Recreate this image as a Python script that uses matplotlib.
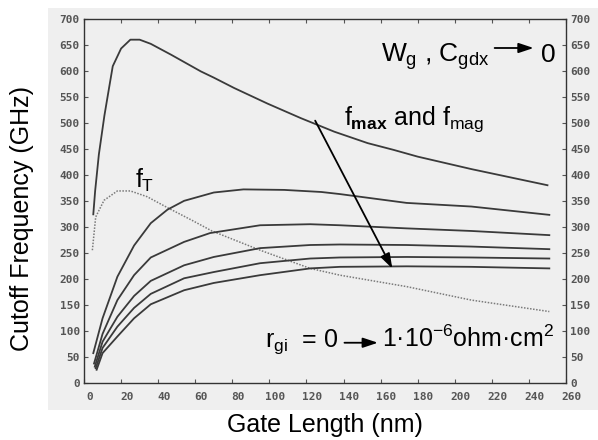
import numpy as np
import matplotlib
matplotlib.use("Agg")
import matplotlib.pyplot as plt
from matplotlib.patches import Rectangle
from matplotlib.transforms import ScaledTranslation

plt.rcParams['font.family'] = ['Liberation Sans', 'DejaVu Sans']
plt.rcParams['mathtext.fontset'] = 'custom'
plt.rcParams['mathtext.rm'] = 'Liberation Sans'
plt.rcParams['mathtext.it'] = 'Liberation Sans'
plt.rcParams['mathtext.bf'] = 'Liberation Sans:bold'

# f_max with r_gi = 0 (W_g, C_gdx -> 0)
x_top = [5, 6, 8, 10, 11, 13.5, 15.5, 20, 25, 30, 36, 47, 58, 63, 70, 81, 99, 117, 135, 153, 167, 180, 209, 250]
y_top = [325, 370, 440, 490, 515, 568, 610, 644, 661, 661, 653, 632, 610, 600, 588, 568, 538, 510, 484, 462, 449, 436, 412, 381]

# f_T (dotted)
x_ft = [4.5, 6.3, 10.8, 18, 25, 34, 46, 58, 69, 95, 122, 138, 174, 209, 251]
y_ft = [256, 320, 352, 370, 370, 359, 336, 314, 293, 256, 221, 208, 186, 160, 138]

# f_max / f_mag for increasing r_gi
x_a = [5, 10, 18, 27, 36, 45, 54, 70, 86, 108, 128, 138, 174, 209, 251]
y_a = [58, 125, 205, 265, 308, 334, 351, 367, 373, 372, 368, 364, 347, 340, 324]
x_b = [5.4, 10, 18, 27, 36, 54, 68, 95, 122, 138, 174, 209, 251]
y_b = [38, 95, 160, 208, 242, 272, 289, 304, 306, 304, 298, 293, 285]
x_c = [5.8, 10, 18, 27, 36, 54, 70, 95, 122, 138, 174, 209, 251]
y_c = [32, 80, 128, 168, 197, 227, 243, 260, 266, 267, 266, 263, 258]
x_d = [6.3, 10, 18, 27, 36, 54, 70, 95, 122, 138, 174, 209, 251]
y_d = [29, 68, 109, 145, 172, 202, 214, 231, 240, 242, 243, 242, 240]
x_e = [6.8, 10, 18, 27, 36, 54, 70, 95, 122, 138, 174, 209, 251]
y_e = [26, 58, 90, 125, 152, 179, 193, 208, 221, 224, 225, 224, 221]

xticks = list(range(0, 261, 20))
yticks = list(range(0, 701, 50))

fig = plt.figure(figsize=(5.98, 4.40), dpi=100)
fig.patch.set_facecolor('white')
# scanned grey panel behind the plot
fig.patches.append(Rectangle((0.08, 0.068), 0.92, 0.914, transform=fig.transFigure,
                             facecolor='#efefef', edgecolor='none', zorder=-10))

ax = fig.add_axes([0.1405, 0.1289, 0.806, 0.827])
ax.set_zorder(1)
ax.set_facecolor('#efefef')

lc = '#3a3a3a'
ax.plot(x_top, y_top, color=lc, lw=1.3)
ax.plot(x_ft, y_ft, color='#7a7a7a', lw=1.1, ls=(0, (1, 1)))
for xs, ys in [(x_a, y_a), (x_b, y_b), (x_c, y_c), (x_d, y_d), (x_e, y_e)]:
    ax.plot(xs, ys, color=lc, lw=1.3)

ax.set_xlim(0, 260)
ax.set_ylim(0, 700)
ax.set_xticks(xticks)
ax.set_yticks(yticks)
for s in ax.spines.values():
    s.set_color('#333333')
    s.set_linewidth(1.0)

ax.tick_params(axis='x', direction='in', top=True, length=3, pad=6, colors='#555555')
ax.tick_params(axis='y', direction='in', left=True, right=True, labelleft=True,
               labelright=True, length=3, pad=3, colors='#555555')
shift = ScaledTranslation(4 / 72, 0, fig.dpi_scale_trans)
for t in ax.xaxis.get_major_ticks() + ax.yaxis.get_major_ticks():
    for lab in (t.label1, t.label2):
        lab.set_fontfamily('DejaVu Sans Mono')
        lab.set_fontsize(8)
        lab.set_fontweight('bold')
for t in ax.xaxis.get_major_ticks():
    t.label1.set_transform(t.label1.get_transform() + shift)

fig.text(0.037, 0.503, 'Cutoff Frequency (GHz)', rotation=90, ha='center', va='center', fontsize=18)
fig.text(0.5435, 0.033, 'Gate Length (nm)', ha='center', va='center', fontsize=18)

ax.text(160, 618, r'$W_g$ , $C_{gdx}$', fontsize=19, va='baseline')
ax.annotate('', xy=(244, 645), xytext=(220, 645),
            arrowprops=dict(arrowstyle='-|>,head_length=0.9,head_width=0.3', lw=1.3, color='black'))
ax.text(246.5, 618, '0', fontsize=19, va='baseline')

ax.text(140, 497, r'$f_{\mathbf{max}}$ and $f_{mag}$', fontsize=18, va='baseline')
ax.text(27.6, 376, r'$f_T$', fontsize=18, va='baseline')

ax.annotate('', xy=(167, 216), xytext=(124, 510),
            arrowprops=dict(arrowstyle='-|>,head_length=0.9,head_width=0.3', lw=1.3, color='black'))

ax.text(97.8, 70, r'$r_{gi}$  = 0', fontsize=18, va='baseline')
ax.annotate('', xy=(160, 78), xytext=(139, 78),
            arrowprops=dict(arrowstyle='-|>,head_length=0.9,head_width=0.3', lw=1.3, color='black'))
ax.text(161, 70, r'1·10$^{-6}$ohm·cm$^{2}$', fontsize=18, va='baseline')

fig.savefig('out.png', dpi=100, facecolor=fig.get_facecolor())
